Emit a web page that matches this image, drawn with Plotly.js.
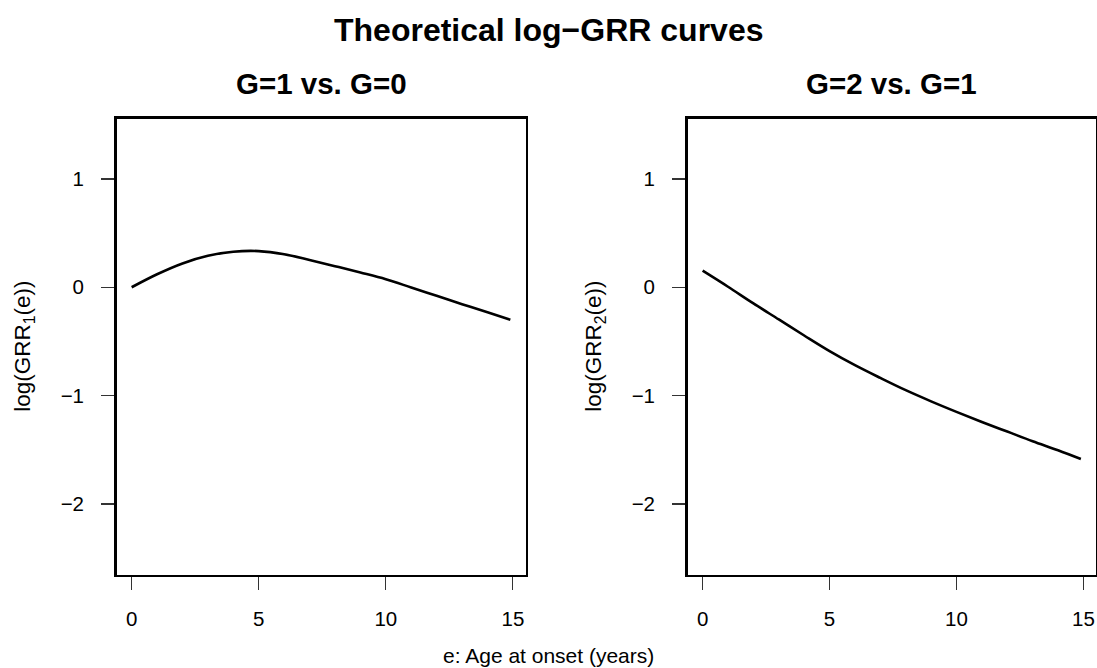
<!DOCTYPE html>
<html>
<head>
<meta charset="utf-8">
<script src="https://cdn.plot.ly/plotly-3.0.1.min.js"></script>
<style>
  html, body { margin: 0; padding: 0; background: #ffffff; }
  #chart { width: 1097px; height: 668px; }
</style>
</head>
<body>
<div id="chart"></div>
<script>
// ---- data ----
const ageOnset = [0, 1, 2, 3, 4, 5, 6, 7, 8, 9, 10, 11, 12, 13, 14, 14.9];
const logGRR1 = [0, 0.12, 0.22, 0.29, 0.328, 0.334, 0.305, 0.252, 0.195, 0.136, 0.074, -0.002, -0.079, -0.156, -0.231, -0.30];
const logGRR2 = [0.153, 0.005, -0.149, -0.297, -0.445, -0.589, -0.719, -0.837, -0.950, -1.053, -1.150, -1.243, -1.332, -1.421, -1.505, -1.586];
const xTicks = [0, 5, 10, 15];
const yTicks = [-2, -1, 0, 1];
const mainTitle = "Theoretical log\u2212GRR curves";
const panelTitles = ["G=1 vs. G=0", "G=2 vs. G=1"];
const xTitle = "e: Age at onset (years)";
const yTitles = ["log(GRR<sub>1</sub>(e))", "log(GRR<sub>2</sub>(e))"];

const W = 1097, H = 668;
const FONT = "Liberation Sans, Arial, Helvetica, sans-serif";

const xRange = [-0.596, 15.496];
const yRange = [-2.656, 1.556];

const yDomain = [1 - 575 / H, 1 - 118.7 / H];
const x1Domain = [116.5 / W, 525.5 / W];
const x2Domain = [687.5 / W, 1096 / W];

function xAxis(domain, anchor) {
  return {
    domain: domain, anchor: anchor, range: xRange, autorange: false,
    tickmode: "array", tickvals: xTicks, ticktext: xTicks.map(String),
    ticks: "outside", ticklen: 13, tickwidth: 1.2, tickcolor: "#333333",
    showline: true, mirror: true, linecolor: "#000000", linewidth: 2.4,
    showgrid: false, zeroline: false,
    tickfont: { family: FONT, size: 20.5, color: "#000000" },
    ticklabelstandoff: 11, fixedrange: true
  };
}
function yAxis(anchor) {
  return {
    domain: yDomain, anchor: anchor, range: yRange, autorange: false,
    tickmode: "array", tickvals: yTicks,
    ticktext: yTicks.map(v => (v < 0 ? "\u2212" + Math.abs(v) : String(v))),
    ticks: "outside", ticklen: 13, tickwidth: 1.2, tickcolor: "#333333",
    showline: true, mirror: true, linecolor: "#000000", linewidth: 2.4,
    showgrid: false, zeroline: false,
    tickfont: { family: FONT, size: 20.5, color: "#000000" },
    ticklabelstandoff: 13, fixedrange: true
  };
}

const traces = [
  { x: ageOnset, y: logGRR1, xaxis: "x", yaxis: "y", type: "scatter", mode: "lines",
    line: { color: "#000000", width: 2.6, shape: "spline", smoothing: 1 }, hoverinfo: "skip" },
  { x: ageOnset, y: logGRR2, xaxis: "x2", yaxis: "y2", type: "scatter", mode: "lines",
    line: { color: "#000000", width: 2.6, shape: "spline", smoothing: 1 }, hoverinfo: "skip" }
];

const yMid = (yDomain[0] + yDomain[1]) / 2;

const layout = {
  width: W, height: H, autosize: false,
  margin: { l: 0, r: 0, t: 0, b: 0, pad: 0 },
  paper_bgcolor: "#ffffff", plot_bgcolor: "#ffffff",
  showlegend: false,
  font: { family: FONT, color: "#000000" },
  xaxis: xAxis(x1Domain, "y"),
  yaxis: yAxis("x"),
  xaxis2: xAxis(x2Domain, "y2"),
  yaxis2: yAxis("x2"),
  annotations: [
    { text: "<b>" + mainTitle + "</b>", xref: "paper", yref: "paper",
      x: 0.5, y: 1 - 30 / H, xanchor: "center", yanchor: "middle", showarrow: false,
      font: { family: FONT, size: 32, color: "#000000" } },
    { text: "<b>" + panelTitles[0] + "</b>", xref: "paper", yref: "paper",
      x: (x1Domain[0] + x1Domain[1]) / 2, y: 1 - 83 / H, xanchor: "center", yanchor: "middle", showarrow: false,
      font: { family: FONT, size: 29.5, color: "#000000" } },
    { text: "<b>" + panelTitles[1] + "</b>", xref: "paper", yref: "paper",
      x: (x2Domain[0] + x2Domain[1]) / 2, y: 1 - 83 / H, xanchor: "center", yanchor: "middle", showarrow: false,
      font: { family: FONT, size: 29.5, color: "#000000" } },
    { text: xTitle, xref: "paper", yref: "paper",
      x: 0.5, y: 1 - 655 / H, xanchor: "center", yanchor: "middle", showarrow: false,
      font: { family: FONT, size: 21, color: "#000000" } },
    { text: yTitles[0], xref: "paper", yref: "paper", textangle: -90,
      x: 24 / W, y: yMid, xanchor: "center", yanchor: "middle", showarrow: false,
      font: { family: FONT, size: 22.5, color: "#000000" } },
    { text: yTitles[1], xref: "paper", yref: "paper", textangle: -90,
      x: 595 / W, y: yMid, xanchor: "center", yanchor: "middle", showarrow: false,
      font: { family: FONT, size: 22.5, color: "#000000" } }
  ]
};

Plotly.newPlot("chart", traces, layout, { staticPlot: true, displayModeBar: false });
</script>
</body>
</html>
